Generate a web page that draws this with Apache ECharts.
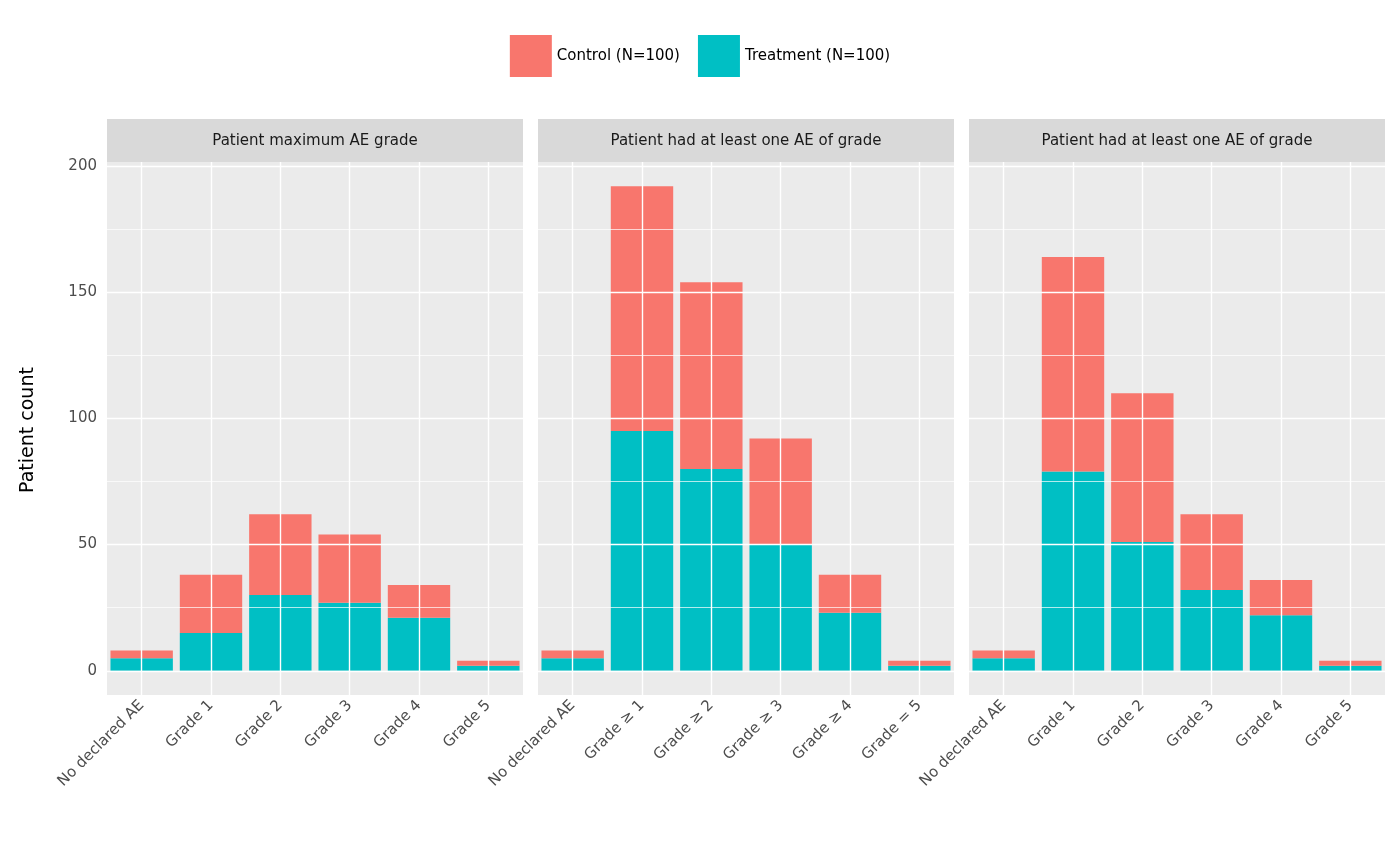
<!DOCTYPE html>
<html><head><meta charset="utf-8">
<script src="https://cdn.jsdelivr.net/npm/echarts@6/dist/echarts.min.js"></script>
<style>html,body{margin:0;padding:0;background:#fff}#c{width:1400px;height:866px}</style>
</head><body><div id="c"></div>
<script>
const panelTitles = ["Patient maximum AE grade","Patient had at least one AE of grade","Patient had at least one AE of grade"];
const categories = [
  ["No declared AE","Grade 1","Grade 2","Grade 3","Grade 4","Grade 5"],
  ["No declared AE","Grade ≥ 1","Grade ≥ 2","Grade ≥ 3","Grade ≥ 4","Grade = 5"],
  ["No declared AE","Grade 1","Grade 2","Grade 3","Grade 4","Grade 5"]
];
const treatment = [[5,15,30,27,21,2],[5,95,80,50,23,2],[5,79,51,32,22,2]];
const control = [[3,23,32,27,13,2],[3,97,74,42,15,2],[3,85,59,30,14,2]];
const majorTicks = [0,50,100,150,200];
const minorTicks = [25,75,125,175];
const yMin = -9.6, yMax = 201.6;

const panelLefts = [107,538,969], panelW = 416, panelTop = 162, panelBottom = 171;
const chart = echarts.init(document.getElementById('c'));
const grids=[],xAxes=[],yAxes=[],seriesList=[],graphics=[];
for(let p=0;p<3;p++){
  grids.push({left:panelLefts[p],width:panelW,top:panelTop,bottom:panelBottom,show:true,backgroundColor:'#ebebeb',borderWidth:0});
  xAxes.push({type:'category',gridIndex:p,data:categories[p],
    axisLine:{show:false},axisTick:{show:true,alignWithLabel:true,length:5,lineStyle:{color:'#333'}},
    splitLine:{show:false},
    axisLabel:{rotate:45,fontSize:15,color:'#4d4d4d',fontFamily:'DejaVu Sans',margin:8,interval:0}});
  yAxes.push({type:'value',gridIndex:p,min:yMin,max:yMax,axisLine:{show:false},axisTick:{show:false},
    axisLabel:{show:false},splitLine:{show:false}});
  const mlData=[];
  minorTicks.forEach(v=>mlData.push({yAxis:v,lineStyle:{width:0.7},label:{show:false}}));
  majorTicks.forEach(v=>mlData.push({yAxis:v,lineStyle:{width:1.4},label:{show:p===0,position:'start',formatter:String(v),color:'#4d4d4d',fontSize:15,fontFamily:'DejaVu Sans',distance:10}}));
  categories[p].forEach(c=>mlData.push({xAxis:c,lineStyle:{width:1.4},label:{show:false}}));
  seriesList.push({type:'line',name:'grid'+p,xAxisIndex:p,yAxisIndex:p,data:[],z:1,silent:true,
    markLine:{symbol:'none',silent:true,animation:false,lineStyle:{color:'#fff',type:'solid'},data:mlData}});
  seriesList.push({type:'bar',name:'Treatment (N=100)',xAxisIndex:p,yAxisIndex:p,stack:'s'+p,data:treatment[p],
    itemStyle:{color:'#00bfc4'},barCategoryGap:'10%',z:3});
  seriesList.push({type:'bar',name:'Control (N=100)',xAxisIndex:p,yAxisIndex:p,stack:'s'+p,data:control[p],
    itemStyle:{color:'#f8766d'},barCategoryGap:'10%',z:3});
  graphics.push({type:'rect',shape:{x:panelLefts[p],y:119,width:panelW,height:43},style:{fill:'#d9d9d9'},z:10});
  graphics.push({type:'text',x:panelLefts[p]+panelW/2,y:141,style:{text:panelTitles[p],fill:'#1a1a1a',fontSize:15,
    fontFamily:'DejaVu Sans',align:'center',verticalAlign:'middle'},z:11});
}
graphics.push({type:'text',x:28,y:430,rotation:Math.PI/2,style:{text:'Patient count',fill:'#000',fontSize:19,
  fontFamily:'DejaVu Sans',align:'center',verticalAlign:'middle'}});
chart.setOption({
  animation:false,
  legend:{data:['Control (N=100)','Treatment (N=100)'],top:30,left:'center',itemWidth:42,itemHeight:42,itemGap:18,
    icon:'rect',textStyle:{fontSize:15,color:'#000',fontFamily:'DejaVu Sans'}},
  grid:grids,xAxis:xAxes,yAxis:yAxes,series:seriesList,graphic:graphics
});
</script></body></html>
